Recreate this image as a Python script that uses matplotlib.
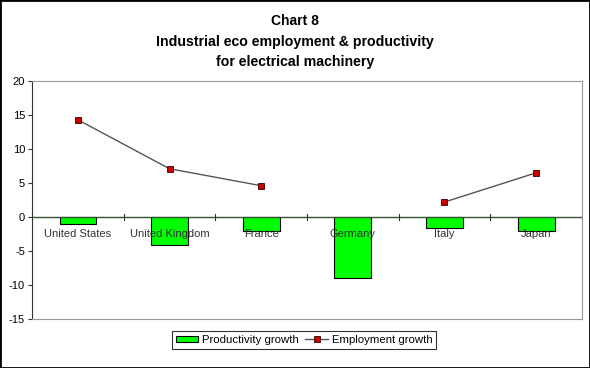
import numpy as np
import matplotlib
matplotlib.use("Agg")
import matplotlib.pyplot as plt
from matplotlib.patches import Rectangle

plt.rcParams["font.family"] = ["Liberation Sans", "DejaVu Sans"]
plt.rcParams["axes.unicode_minus"] = False

countries = ["United States", "United Kingdom", "France", "Germany", "Italy", "Japan"]
productivity = [-1.0, -4.1, -2.1, -9.0, -1.6, -2.0]
employment = [14.3, 7.1, 4.6, np.nan, 2.2, 6.5]

fig = plt.figure(figsize=(5.9, 3.68), dpi=100)
ax = fig.add_axes([32 / 590, 1 - 319 / 368, 550 / 590, 238 / 368])

x = np.arange(len(countries))
bars = ax.bar(x, productivity, width=0.4, color="#00ff00", edgecolor="black", linewidth=0.8,
              label="Productivity growth", zorder=2)
line, = ax.plot(x, employment, color="#555555", linewidth=1.0, marker="s", markersize=4,
                markerfacecolor="#cc0000", markeredgecolor="#330000", markeredgewidth=0.6,
                label="Employment growth", zorder=3)

ax.set_xlim(-0.5, len(countries) - 0.5)
ax.set_ylim(-15, 20)
ax.set_yticks(range(-15, 21, 5))
ax.tick_params(axis="y", labelsize=8, length=3, direction="out", color="#333333", pad=2)
ax.set_xticks([])

# category axis drawn along zero
ax.axhline(0, color="#335533", linewidth=1.0, zorder=4)
for b in np.arange(-0.5, len(countries), 1.0):
    ax.plot([b, b], [-0.4, 0.4], color="#333333", linewidth=0.8, zorder=4)
for xi, name in zip(x, countries):
    ax.text(xi, -2.5, name, ha="center", va="center", fontsize=8, color="#333333", zorder=5)

for side in ["top", "right", "bottom"]:
    ax.spines[side].set_color("#999999")
    ax.spines[side].set_linewidth(0.8)
ax.spines["left"].set_color("#333333")

fig.text(0.5, 1 - 21 / 368, "Chart 8", ha="center", va="center", fontsize=10, fontweight="bold")
fig.text(0.5, 1 - 42 / 368, "Industrial eco employment & productivity",
         ha="center", va="center", fontsize=10.2, fontweight="bold")
fig.text(0.5, 1 - 62 / 368, "for electrical machinery", ha="center", va="center",
         fontsize=10.2, fontweight="bold")

leg = fig.legend([bars, line], ["Productivity growth", "Employment growth"],
                 loc="center", bbox_to_anchor=(304 / 590, 1 - 340 / 368), ncol=2, fontsize=8.2,
                 frameon=True, fancybox=False, edgecolor="black", handlelength=2.0,
                 handleheight=0.5, handletextpad=0.3, columnspacing=0.6, borderpad=0.35)
leg.get_frame().set_linewidth(0.8)

fig.patches.append(Rectangle((0, 0), 1, 1, transform=fig.transFigure, fill=False,
                             edgecolor="black", linewidth=2))

fig.savefig("out.png", dpi=100)
